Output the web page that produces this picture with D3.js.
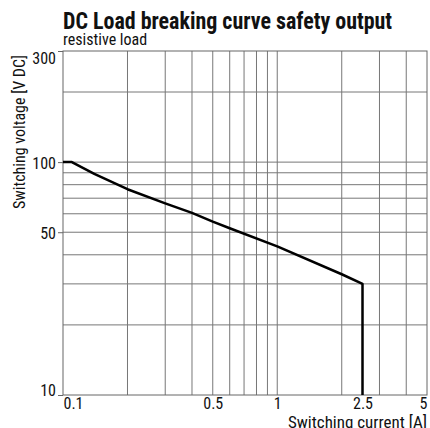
<!DOCTYPE html>
<html>
<head>
<meta charset="utf-8">
<script src="https://cdn.jsdelivr.net/npm/d3@7"></script>
<style>
    body { margin: 0; background: #fff; }
    text { font-family: "Liberation Sans Narrow", "Roboto Condensed", "DejaVu Sans Condensed", sans-serif; fill: #111; }
</style>
</head>
<body>
<div id="chart"></div>
<script>
// curve, current [A] vs voltage [V DC]
let currents = [0.1, 0.11, 0.14, 0.2, 0.3, 0.4, 0.5, 0.6, 1, 2, 2.5, 2.5];
let voltages = [100, 100, 89, 76.5, 66.5, 60.5, 55.5, 52, 43.5, 33, 30, 10];

let xGrid = [0.2, 0.3, 0.4, 0.5, 0.6, 0.7, 0.8, 0.9, 1, 2, 3, 4];
let yGrid = [20, 30, 40, 50, 60, 70, 80, 90, 100, 200];
let xLabels = [0.1, 0.5, 1, 2.5, 5];
let yLabels = [10, 50, 100, 300];

let width = 430;
let height = 428;
let plotLeft = 63, plotRight = 427, plotTop = 51, plotBottom = 395;

let svg = d3.select("#chart")
    .append("svg")
    .attr("width", width)
    .attr("height", height);

let x = d3.scaleLog().domain([0.1, 5]).range([plotLeft, plotRight]);
let y = d3.scaleLog().domain([10, 300]).range([plotBottom, plotTop]);

// grid
svg.append("g")
    .selectAll("line")
    .data(xGrid)
    .enter().append("line")
    .attr("x1", function(d) { return x(d); })
    .attr("x2", function(d) { return x(d); })
    .attr("y1", plotTop)
    .attr("y2", plotBottom)
    .attr("stroke", "#777")
    .attr("stroke-width", 1);

svg.append("g")
    .selectAll("line")
    .data(yGrid)
    .enter().append("line")
    .attr("x1", plotLeft)
    .attr("x2", plotRight)
    .attr("y1", function(d) { return y(d); })
    .attr("y2", function(d) { return y(d); })
    .attr("stroke", "#777")
    .attr("stroke-width", 1);

// frame
svg.append("rect")
    .attr("x", plotLeft)
    .attr("y", plotTop)
    .attr("width", plotRight - plotLeft)
    .attr("height", plotBottom - plotTop)
    .attr("fill", "none")
    .attr("stroke", "#666")
    .attr("stroke-width", 1);

// y axis with small ticks
let yAxis = d3.axisLeft(y)
    .tickValues(yLabels)
    .tickFormat(d3.format("d"))
    .tickSize(5)
    .tickPadding(2);

let gy = svg.append("g")
    .attr("transform", "translate(" + plotLeft + ",0)")
    .call(yAxis);
gy.select(".domain").remove();
gy.selectAll("line").attr("stroke", "#666");
gy.selectAll("text")
    .attr("font-size", 16)
    .attr("font-family", null)
    .attr("fill", "#111")
    .attr("dy", function(d) { return d === 300 ? "0.75em" : d === 10 ? "0.05em" : "0.4em"; });

// x axis labels only
let xAxis = d3.axisBottom(x)
    .tickValues(xLabels)
    .tickFormat(function(d) { return String(d); })
    .tickSize(0)
    .tickPadding(3);

let gx = svg.append("g")
    .attr("transform", "translate(0," + plotBottom + ")")
    .call(xAxis);
gx.select(".domain").remove();
gx.selectAll("text")
    .attr("font-size", 16)
    .attr("font-family", null)
    .attr("fill", "#111")
    .attr("text-anchor", function(d) { return d === 0.1 ? "start" : d === 5 ? "end" : "middle"; });

// curve
let line = d3.line()
    .x(function(d, i) { return x(currents[i]); })
    .y(function(d, i) { return y(voltages[i]); });

svg.append("path")
    .datum(currents)
    .attr("d", line)
    .attr("fill", "none")
    .attr("stroke", "#000")
    .attr("stroke-width", 2.5)
    .attr("stroke-linejoin", "round");

// titles, squeezed a bit to get the condensed look
svg.append("text")
    .attr("transform", "translate(" + plotLeft + ",29) scale(0.955,1)")
    .attr("font-size", 23)
    .attr("font-weight", "bold")
    .text("DC Load breaking curve safety output");

svg.append("text")
    .attr("x", plotLeft)
    .attr("y", 45)
    .attr("font-size", 16)
    .text("resistive load");

svg.append("text")
    .attr("x", plotRight)
    .attr("y", 428)
    .attr("font-size", 17)
    .attr("text-anchor", "end")
    .text("Switching current [A]");

svg.append("text")
    .attr("transform", "translate(25,132) rotate(-90)")
    .attr("font-size", 16)
    .attr("text-anchor", "middle")
    .text("Switching voltage [V DC]");
</script>
</body>
</html>
